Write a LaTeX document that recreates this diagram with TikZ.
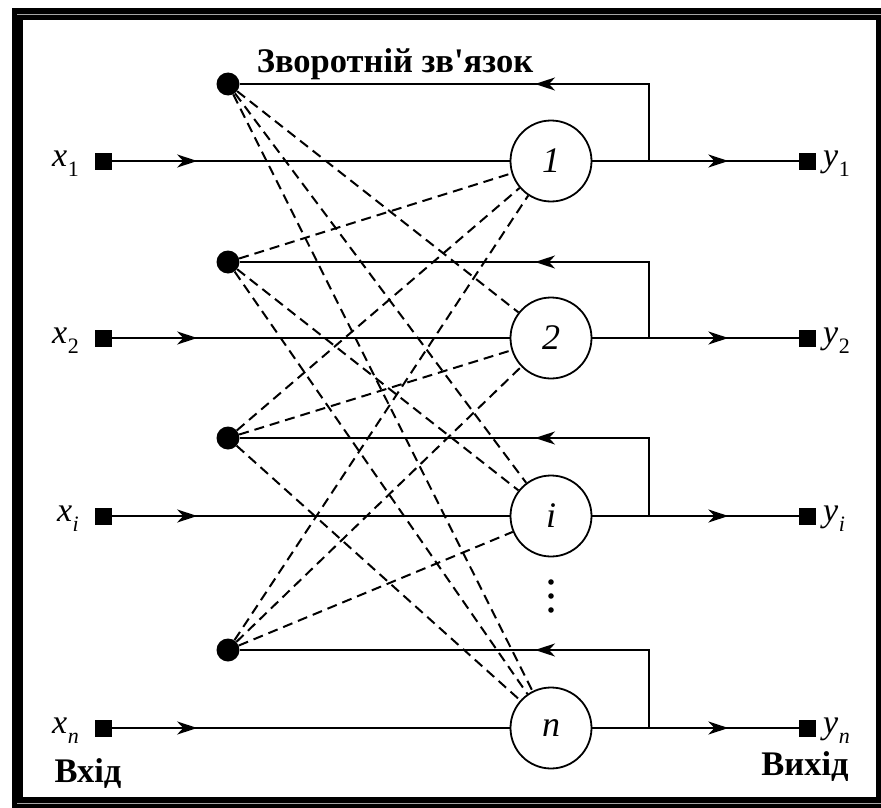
\documentclass[tikz,border=0pt]{standalone}
\usepackage{fontspec}
\setmainfont{Liberation Serif}
\usetikzlibrary{arrows.meta,decorations.markings}

% variable with a subscript, e.g. x_1
\newcommand\varsub[2]{\textit{#1}\kern0.5pt\raisebox{-0.30em}{\fontsize{22}{22}\selectfont #2}}

\tikzset{
  sq/.style={rectangle, fill=black, minimum size=17pt, inner sep=0pt},
  fbdot/.style={circle, fill=black, minimum size=23pt, inner sep=0pt},
  neuron/.style={circle, draw, line width=1.8pt, minimum size=81pt, inner sep=0pt,
                 font=\fontsize{36}{36}\selectfont\itshape},
  wire/.style={line width=2.4pt},
  link/.style={line width=2pt, dash pattern=on 10pt off 6pt},
  tipat/.style={postaction={decorate}, decoration={markings,
      mark=at position #1 with {\arrow{Stealth[length=20pt,width=13pt,inset=6pt]}}}},
  varlabel/.style={font=\fontsize{34}{34}\selectfont, inner sep=0pt},
  caption/.style={font=\fontsize{34.5}{34.5}\selectfont\bfseries, inner sep=0pt},
}

\begin{document}
\begin{tikzpicture}[x=1pt, y=-1pt]
  \useasboundingbox (0,0) rectangle (881,808);

  % frame
  \fill[black] (12,8) rectangle (881,808);
  \fill[white] (23,20) rectangle (876,797);
  \draw[gray!70, line width=0.8pt] (17,14.5) -- (881,14.5);
  \draw[gray!70, line width=0.8pt] (17,803.5) -- (881,803.5);

  % neurons
  \node[neuron] (n1) at (551,161) {1};
  \node[neuron] (n2) at (551,338) {2};
  \node[neuron] (n3) at (551,516) {i};
  \node[neuron] (n4) at (551,728) {n};

  % inputs and outputs
  \node[sq] (in1) at (103.5,161) {};
  \node[sq] (in2) at (103.5,338) {};
  \node[sq] (in3) at (103.5,516) {};
  \node[sq] (in4) at (103.5,728) {};
  \node[sq] (out1) at (807.5,161) {};
  \node[sq] (out2) at (807.5,338) {};
  \node[sq] (out3) at (807.5,516) {};
  \node[sq] (out4) at (807.5,728) {};

  \node[varlabel, anchor=east] (lx1) at (79,164) {\varsub{x}{1}};
  \node[varlabel, anchor=east] (lx2) at (79,341) {\varsub{x}{2}};
  \node[varlabel, anchor=east] (lx3) at (79,519) {\varsub{x}{\textit{i}}};
  \node[varlabel, anchor=east] (lx4) at (79,731) {\varsub{x}{\textit{n}}};
  \node[varlabel, anchor=west] (ly1) at (823,164) {\varsub{y}{1}};
  \node[varlabel, anchor=west] (ly2) at (823,341) {\varsub{y}{2}};
  \node[varlabel, anchor=west] (ly3) at (823,519) {\varsub{y}{\textit{i}}};
  \node[varlabel, anchor=west] (ly4) at (823,731) {\varsub{y}{\textit{n}}};

  % feedback junctions
  \node[fbdot] (d1) at (228,84) {};
  \node[fbdot] (d2) at (228,262) {};
  \node[fbdot] (d3) at (228,438) {};
  \node[fbdot] (d4) at (228,650) {};

  \coordinate (b1) at (649,161);  \coordinate (t1) at (649,84);
  \coordinate (b2) at (649,338);  \coordinate (t2) at (649,262);
  \coordinate (b3) at (649,516);  \coordinate (t3) at (649,438);
  \coordinate (b4) at (649,728);  \coordinate (t4) at (649,650);

  % signal paths
  \foreach \k in {1,2,3,4} {
    \draw[wire, tipat=85pt] (in\k) -- (n\k);
    \draw[wire, tipat=136pt] (n\k) -- (out\k);
  }
  \draw[wire, tipat=191pt] (b1) -- (t1) -- (d1);
  \draw[wire, tipat=190pt] (b2) -- (t2) -- (d2);
  \draw[wire, tipat=192pt] (b3) -- (t3) -- (d3);
  \draw[wire, tipat=192pt] (b4) -- (t4) -- (d4);

  % cross links: each output feeds every other neuron
  \draw[link] (d1) -- (n2);  \draw[link] (d1) -- (n3);  \draw[link] (d1) -- (n4);
  \draw[link] (d2) -- (n1);  \draw[link] (d2) -- (n3);  \draw[link] (d2) -- (n4);
  \draw[link] (d3) -- (n1);  \draw[link] (d3) -- (n2);  \draw[link] (d3) -- (n4);
  \draw[link] (d4) -- (n1);  \draw[link] (d4) -- (n2);  \draw[link] (d4) -- (n3);

  % vertical ellipsis
  \fill (551,582) circle (2.8pt);
  \fill (551,596) circle (2.8pt);
  \fill (551,610) circle (2.8pt);

  % captions
  \node[caption, anchor=base] (fbtitle) at (395,73) {Зворотній зв\textquotesingle язок};
  \node[caption, anchor=base] (inlabel) at (88,782) {Вхід};
  \node[caption, anchor=base] (outlabel) at (805,775) {Вихід};
\end{tikzpicture}
\end{document}
